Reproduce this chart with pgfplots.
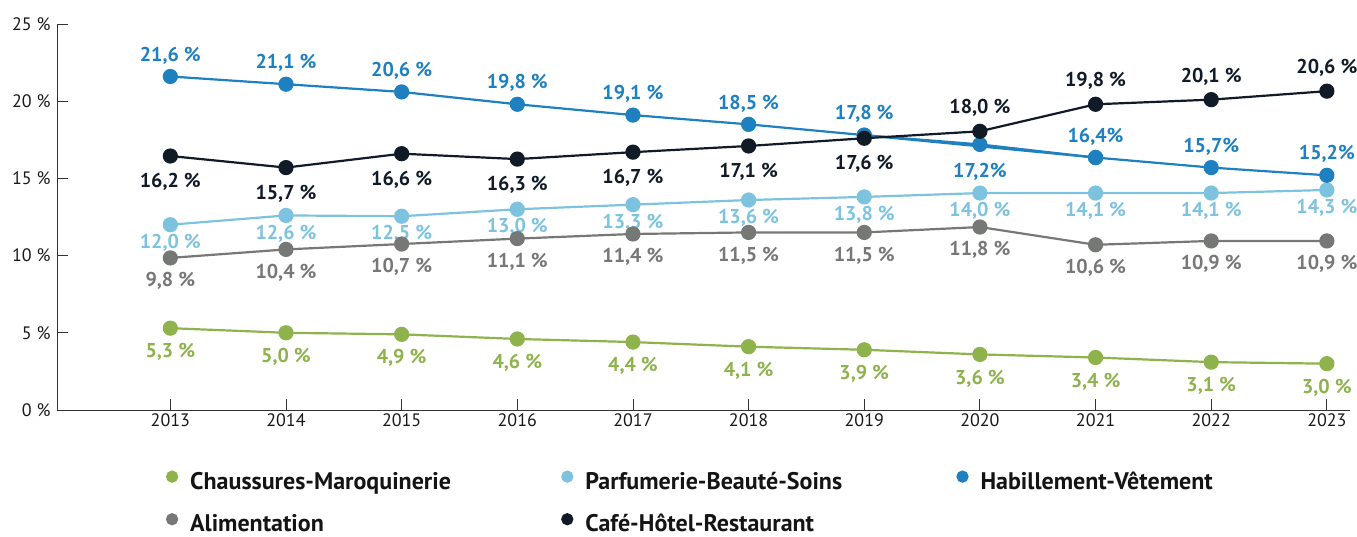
\documentclass[border=0pt]{standalone}
\usepackage{fontspec}
\setmainfont{PT Sans}
\usepackage{pgfplots}
\pgfplotsset{compat=1.18}
\definecolor{cgreen}{HTML}{8EB24C}
\definecolor{clblue}{HTML}{7DC3E0}
\definecolor{cblue}{HTML}{1F80C0}
\definecolor{cgray}{HTML}{767876}
\definecolor{cnavy}{HTML}{111B28}
\definecolor{axcol}{HTML}{333333}
\begin{document}
\begin{tikzpicture}[x=1pt,y=1pt]
\path[use as bounding box] (0,0) rectangle (1357,537);
\begin{axis}[
  at={(57pt,127pt)}, anchor=south west,
  scale only axis, width=1293pt, height=386pt,
  xmin=2012.02, xmax=2023.2, ymin=0, ymax=25,
  axis lines*=left,
  axis line style={draw=axcol, line width=0.9pt},
  tick style={draw=axcol, line width=0.9pt},
  major tick length=11pt,
  xtick={2013,2014,2015,2016,2017,2018,2019,2020,2021,2022,2023},
  xticklabels={2013,2014,2015,2016,2017,2018,2019,2020,2021,2022,2023},
  ytick={0,5,10,15,20,25},
  yticklabels={0 \%,5 \%,10 \%,15 \%,20 \%,25 \%},
  tick label style={font=\fontsize{18}{20}\selectfont, text=black!90},
  yticklabel style={xshift=-3pt},
  clip=false,
  lin/.style={color=#1, line width=2.2pt, mark=*, mark size=6.5pt, mark options={solid}},
  lab/.style={nodes near coords, point meta=explicit symbolic,
    nodes near coords style={font=\fontsize{20}{22}\selectfont\bfseries, text=#1, anchor=center, inner sep=0pt}},
  legend columns=3,
  legend image code/.code={\fill[#1] (0pt,5pt) circle (5pt);},
  legend style={draw=none, fill=none, inner sep=0pt, outer sep=0pt,
    at={(0.0843,-0.1568)}, anchor=north west,
    font=\fontsize{24}{26}\selectfont\bfseries,
    nodes={inner sep=0pt, text width=371pt, text height=17pt, text depth=2pt, align=left, text=black!92},
    row sep=22pt,
    /tikz/every odd column/.append style={column sep=12pt},
    /tikz/every even column/.append style={column sep=0pt}},
]
% Chaussures-Maroquinerie
\addplot[lin=cgreen, lab=cgreen, nodes near coords style={yshift=-24pt}] coordinates {
 (2013,5.3) [5,3 \%] (2014,5.0) [5,0 \%] (2015,4.9) [4,9 \%] (2016,4.6) [4,6 \%]
 (2017,4.4) [4,4 \%] (2018,4.1) [4,1 \%] (2019,3.9) [3,9 \%] (2020,3.6) [3,6 \%]
 (2021,3.4) [3,4 \%] (2022,3.1) [3,1 \%] (2023,3.0) [3,0 \%]};
\addlegendentry{Chaussures-Maroquinerie}
% Parfumerie-Beauté-Soins
\addplot[lin=clblue, lab=clblue, nodes near coords style={yshift=-18pt}] coordinates {
 (2013,12.0) [12,0 \%] (2014,12.6) [12,6 \%] (2015,12.55) [12,5 \%] (2016,13.0) [13,0 \%]
 (2017,13.3) [13,3 \%] (2018,13.6) [13,6 \%] (2019,13.8) [13,8 \%] (2020,14.05) [14,0 \%]
 (2021,14.05) [14,1 \%] (2022,14.05) [14,1 \%] (2023,14.25) [14,3 \%]};
\addlegendentry{Parfumerie-Beauté-Soins}
% Habillement-Vêtement
\addplot[lin=cblue, lab=cblue, nodes near coords style={yshift=21pt}] coordinates {
 (2013,21.6) [21,6 \%] (2014,21.1) [21,1 \%] (2015,20.6) [20,6 \%] (2016,19.8) [19,8 \%]
 (2017,19.1) [19,1 \%] (2018,18.5) [18,5 \%] (2019,17.8) [17,8 \%]
 (2021,16.35) [16,4\%] (2022,15.7) [15,7\%] (2023,15.2) [15,2\%]};
\addlegendentry{Habillement-Vêtement}
\addplot[draw=none, mark=none, forget plot, lab=cblue, nodes near coords style={yshift=-27pt}] coordinates {
 (2020,17.2) [17,2\%]};
\addplot[lin=cblue, forget plot] coordinates {(2019,17.8) (2020,17.2) (2021,16.35)};
% Alimentation
\addplot[lin=cgray, lab=cgray, nodes near coords style={yshift=-23pt}] coordinates {
 (2013,9.85) [9,8 \%] (2014,10.4) [10,4 \%] (2015,10.75) [10,7 \%] (2016,11.1) [11,1 \%]
 (2017,11.4) [11,4 \%] (2018,11.5) [11,5 \%] (2019,11.5) [11,5 \%] (2020,11.85) [11,8 \%]
 (2021,10.7) [10,6 \%] (2022,10.95) [10,9 \%] (2023,10.95) [10,9 \%]};
\addlegendentry{Alimentation}
% Café-Hôtel-Restaurant
\addplot[lin=cnavy] coordinates {
 (2013,16.45) (2014,15.7) (2015,16.6) (2016,16.25) (2017,16.7) (2018,17.1)
 (2019,17.6) (2020,18.05) (2021,19.8) (2022,20.1) (2023,20.65)};
\addlegendentry{Café-Hôtel-Restaurant}
\addplot[draw=none, mark=none, forget plot, lab=cnavy, nodes near coords style={yshift=-26pt}] coordinates {
 (2013,16.45) [16,2 \%] (2014,15.7) [15,7 \%] (2015,16.6) [16,6 \%] (2016,16.25) [16,3 \%]
 (2017,16.7) [16,7 \%] (2018,17.1) [17,1 \%] (2019,17.6) [17,6 \%]};
\addplot[draw=none, mark=none, forget plot, lab=cnavy, nodes near coords style={yshift=23pt}] coordinates {
 (2020,18.05) [18,0 \%] (2021,19.8) [19,8 \%] (2022,20.1) [20,1 \%] (2023,20.65) [20,6 \%]};
\end{axis}
\end{tikzpicture}
\end{document}
